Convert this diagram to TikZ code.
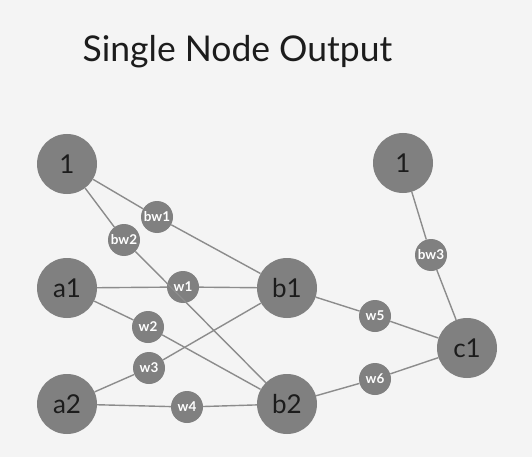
\documentclass[tikz,border=0pt]{standalone}
\usepackage{fontspec}
\setmainfont{Lato}
\usepackage{tikz}
\usetikzlibrary{positioning}
\definecolor{paper}{RGB}{244,244,244}
\definecolor{disc}{RGB}{128,128,128}
\definecolor{wire}{RGB}{140,140,140}
\definecolor{ink}{RGB}{28,28,28}

\begin{document}
\begin{tikzpicture}[x=1pt,y=-1pt,
  neuron/.style={circle,fill=disc,minimum size=60pt,inner sep=0pt,text=ink,font=\fontsize{26}{26}\selectfont},
  weight/.style={circle,fill=disc,minimum size=32pt,inner sep=0pt,text=white,font=\fontsize{13.5}{13.5}\selectfont\bfseries},
  link/.style={draw=wire,line width=1.4pt}]
\fill[paper] (0,0) rectangle (532,457);
\node[anchor=base,text=ink,font=\fontsize{35.5}{35.5}\selectfont] (title) at (237.5,62) {Single Node Output};
\node[neuron] (bias1) at (67,164) {1};
\node[neuron] (a1) at (67,288) {a1};
\node[neuron] (a2) at (67,404) {a2};
\node[neuron] (b1) at (287,288) {b1};
\node[neuron] (b2) at (287,404) {b2};
\node[neuron] (bias2) at (403,163) {1};
\node[neuron] (c1) at (467,348) {c1};
\node[weight] (bw1) at (157,217) {bw1};
\node[weight] (bw2) at (124,240) {bw2};
\node[weight] (w1) at (183,287) {w1};
\node[weight] (w2) at (148,327) {w2};
\node[weight] (w3) at (149,368) {w3};
\node[weight] (w4) at (187,407) {w4};
\node[weight] (bw3) at (431,255) {bw3};
\node[weight] (w5) at (375,316) {w5};
\node[weight] (w6) at (375,379) {w6};
\path[link] (bias1) -- (bw1) -- (b1);
\path[link] (bias1) -- (bw2) -- (b2);
\path[link] (a1) -- (w1) -- (b1);
\path[link] (a1) -- (w2) -- (b2);
\path[link] (a2) -- (w3) -- (b1);
\path[link] (a2) -- (w4) -- (b2);
\path[link] (b1) -- (w5) -- (c1);
\path[link] (b2) -- (w6) -- (c1);
\path[link] (bias2) -- (bw3) -- (c1);
\end{tikzpicture}
\end{document}
